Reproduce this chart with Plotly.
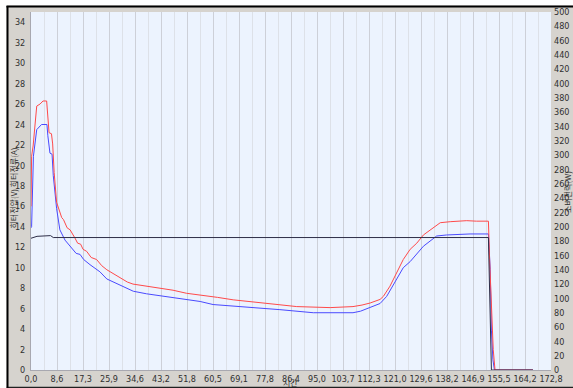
import plotly.graph_objects as go

# ---- data ----
red_x = [0.0, 0.2, 0.7, 1.9, 3.0, 4.0, 5.2, 5.7, 6.0, 6.8, 7.2, 7.7, 8.5, 10.2, 10.8, 12.0, 13.0,
         14.6, 15.5, 16.5, 17.3, 18.5, 20.0, 21.8, 23.5, 25.2, 27.5, 29.6, 32.0, 33.9, 36.0, 38.4,
         42.9, 47.2, 51.7, 56.2, 62.0, 67.2, 75.0, 82.7, 88.3, 99.4, 103.7, 107.0, 110.0, 112.7,
         116.0, 117.1, 119.3, 121.5, 123.7, 126.0, 128.2, 130.4, 133.8, 136.0, 139.3, 144.8, 148.0,
         152.0, 152.4, 153.0, 153.6, 154.2, 166.8]
red_v = [16.0, 20.9, 21.9, 25.8, 26.0, 26.3, 26.3, 24.5, 23.2, 23.1, 22.1, 19.3, 16.4, 14.9, 14.7,
         13.9, 13.7, 12.9, 12.4, 12.3, 11.8, 11.6, 11.0, 10.8, 10.2, 9.8, 9.4, 9.0, 8.6, 8.4, 8.3,
         8.2, 8.0, 7.8, 7.5, 7.35, 7.1, 6.86, 6.6, 6.37, 6.2, 6.1, 6.15, 6.2, 6.35, 6.55, 6.9, 7.2,
         8.2, 9.5, 10.8, 11.8, 12.4, 13.2, 13.9, 14.4, 14.5, 14.6, 14.55, 14.55, 10.8, 6.9, 2.0,
         0.0, 0.0]

blue_x = [0.0, 0.2, 0.8, 1.9, 3.5, 5.3, 5.6, 6.3, 7.0, 7.4, 8.5, 9.6, 11.3, 13.5, 15.0, 16.3, 17.5,
          19.6, 21.0, 22.9, 25.2, 27.5, 29.6, 32.0, 34.0, 38.4, 42.9, 47.2, 51.7, 56.2, 60.5, 70.0,
          82.7, 93.8, 107.0, 109.5, 111.6, 114.0, 116.0, 118.2, 120.4, 122.0, 123.7, 126.0, 128.2,
          130.4, 132.6, 134.8, 138.1, 145.9, 152.0, 152.6, 153.0, 153.5, 154.0, 166.8]
blue_v = [13.9, 14.0, 20.9, 23.5, 24.0, 24.0, 22.9, 21.2, 21.1, 19.0, 15.8, 13.7, 12.7, 11.9, 11.4,
          11.3, 10.8, 10.3, 10.0, 9.6, 8.9, 8.6, 8.3, 8.0, 7.7, 7.45, 7.25, 7.1, 6.86, 6.7, 6.4,
          6.2, 5.9, 5.6, 5.6, 5.75, 6.0, 6.3, 6.5, 7.2, 8.3, 9.2, 10.0, 10.6, 11.3, 12.1, 12.6,
          13.1, 13.2, 13.3, 13.3, 9.8, 3.9, 1.0, 0.0, 0.0]

power_x = [0.0, 2.0, 6.5, 7.4, 152.0, 152.5, 153.0, 166.8]
power_w = [184, 186.7, 187.7, 185, 185, 100, 0, 0]

x_major = [round(8.64 * k, 2) for k in range(21)]
x_labels = [f"{v:.1f}".replace(".", ",") for v in x_major]

W, H = 573, 388
L, R, T, B = 31, 551, 12, 370
pw, ph = R - L, B - T


def px(x):
    return (x - L) / pw


def py(y):
    return (B - y) / ph


fig = go.Figure()
fig.add_trace(go.Scatter(x=power_x, y=power_w, mode="lines", yaxis="y2",
                         line=dict(color="#2e2e48", width=1), name="소비전력(W)"))
fig.add_trace(go.Scatter(x=blue_x, y=blue_v, mode="lines",
                         line=dict(color="#4a4aff", width=1), name="히터전류(A)"))
fig.add_trace(go.Scatter(x=red_x, y=red_v, mode="lines",
                         line=dict(color="#ff4a4a", width=1), name="히터전압(V)"))

tick_font = dict(family="Liberation Sans Narrow, DejaVu Sans Condensed, Liberation Sans",
                 size=9, color="#303030")
title_font = dict(family="Noto Sans CJK KR", size=8, color="#303030")

fig.update_layout(
    width=W, height=H,
    margin=dict(l=L, r=W - R, t=T, b=H - B, pad=0, autoexpand=False),
    paper_bgcolor="#d6d3ce",
    plot_bgcolor="#ecf3fe",
    showlegend=False,
    xaxis=dict(range=[0, 172.8], tickvals=x_major, ticktext=x_labels, tickfont=tick_font,
               showgrid=True, gridcolor="#cdd0d8", gridwidth=1,
               minor=dict(dtick=4.32, tick0=0, showgrid=True, gridcolor="#dde1e8"),
               zeroline=False, showline=True, linecolor="#a8a8b0", linewidth=1,
               ticks="", ticklabelstandoff=0, automargin=False),
    yaxis=dict(range=[0, 35], dtick=2, tick0=0, tickfont=tick_font, showgrid=False,
               zeroline=False, showline=True, linecolor="#a8a8b0", linewidth=1,
               ticks="", ticklabelstandoff=3, automargin=False),
    yaxis2=dict(range=[0, 500], dtick=20, tick0=0, overlaying="y", side="right",
                tickfont=tick_font, showgrid=False, zeroline=False, showline=False,
                ticks="", ticklabelstandoff=2, automargin=False),
    shapes=[
        # white outside strips (top and left)
        dict(type="rect", xref="paper", yref="paper", x0=px(0), x1=px(W + 5),
             y0=py(5.5), y1=py(-5), line=dict(width=0), fillcolor="white", layer="above"),
        dict(type="rect", xref="paper", yref="paper", x0=px(-5), x1=px(6.5),
             y0=py(H + 5), y1=py(-5), line=dict(width=0), fillcolor="white", layer="above"),
        # black frame
        dict(type="line", xref="paper", yref="paper", x0=px(6.5), x1=px(W + 5),
             y0=py(6.5), y1=py(6.5), line=dict(color="black", width=2), layer="above"),
        dict(type="line", xref="paper", yref="paper", x0=px(7.5), x1=px(7.5),
             y0=py(6), y1=py(H + 2), line=dict(color="black", width=2), layer="above"),
        dict(type="line", xref="paper", yref="paper", x0=px(6.5), x1=px(W + 5),
             y0=py(387.3), y1=py(387.3), line=dict(color="#202020", width=1.2), layer="below"),
    ],
    annotations=[
        dict(text="히터전압(V) 히터전류(A)", textangle=-90, xref="paper", yref="paper",
             x=px(12.5), y=py(188), xanchor="center", yanchor="middle", showarrow=False,
             font=title_font),
        dict(text="소비전력(W)", textangle=-90, xref="paper", yref="paper",
             x=px(567), y=py(192), xanchor="center", yanchor="middle", showarrow=False,
             font=title_font),
        dict(text="시간", xref="paper", yref="paper", x=px(290), y=py(382),
             xanchor="center", yanchor="middle", showarrow=False, font=title_font),
    ],
)

fig.write_html("out.html", config={"displayModeBar": False},
               post_script="document.body.style.margin='0px';document.body.style.overflow='hidden';")
